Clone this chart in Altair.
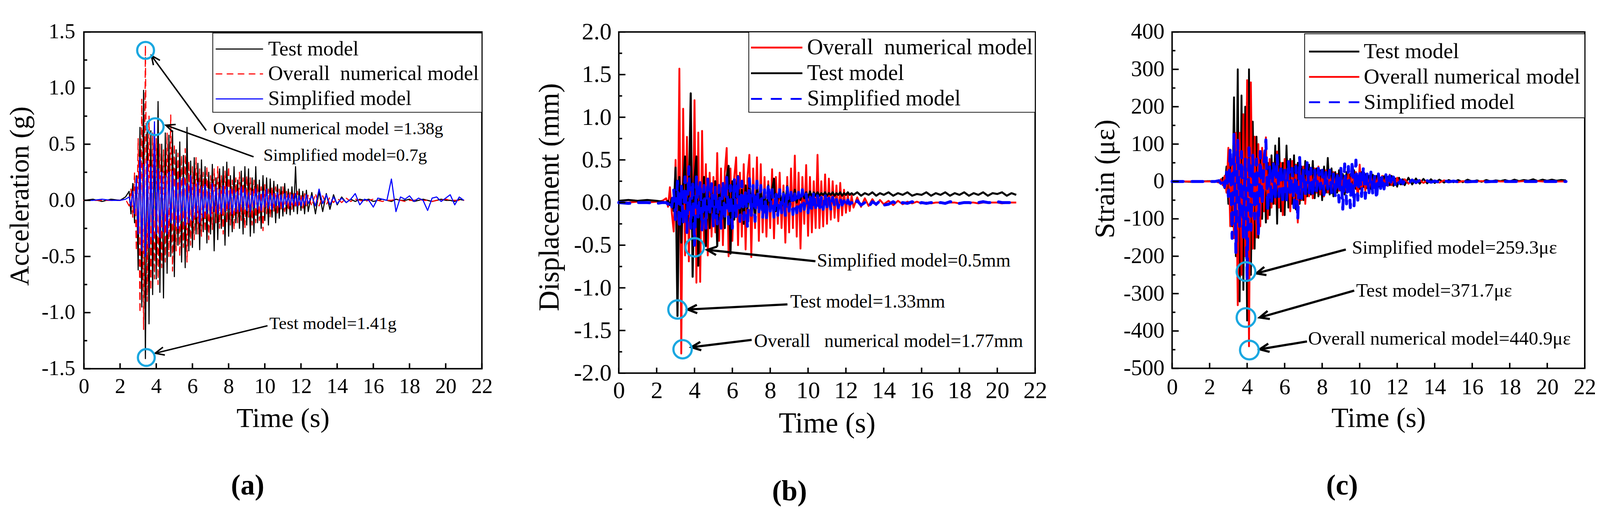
import math

import altair as alt
import pandas as pd

FONT = "Liberation Serif"
CYAN = "#1aa7e0"

# sampling grid shared by every record (s)
T_PRE = [0.0, 0.5, 1.0, 1.5, 2.0, 2.3]
T_MID = [round(2.5 + 0.1 * i, 1) for i in range(100)]
T_LATE = [12.6, 12.8, 13.0, 13.2, 13.4, 13.6, 13.8, 14.0]
T_TAIL = [round(14.25 + 0.25 * i, 2) for i in range(28)]
TIME = T_PRE + T_MID + T_LATE + T_TAIL

X_TICKS = [0, 2, 4, 6, 8, 10, 12, 14, 16, 18, 20, 22]

TEST = "Test model"
OVERALL2 = "Overall\u00a0\u00a0numerical model"
OVERALL = "Overall numerical model"
SIMPLE = "Simplified model"

# ---------------- (a) acceleration, g ----------------
ACC_TEST = (
    [0.0, 0.01, -0.01, 0.01, 0.0, 0.03]
    + [0.08, -0.12, 0.15, -0.2, 0.22, -0.62, 0.65, -0.95, 0.98, -1.41,
       0.7, -1.1, 0.62, -0.84, 0.55, -0.7, 0.88, -0.82, 0.5, -0.87,
       0.6, -0.65, 0.58, -0.5, 0.62, -0.68, 0.45, -0.4, 0.52, -0.55,
       0.4, -0.6, 0.65, -0.45, 0.35, -0.42, 0.38, -0.3, 0.33, -0.44,
       0.36, -0.28, 0.3, -0.38, 0.25, -0.3, 0.32, -0.45, 0.2, -0.35,
       0.28, -0.25, 0.3, -0.4, 0.34, -0.32, 0.22, -0.28, 0.3, -0.2,
       0.18, -0.25, 0.26, -0.3, 0.3, -0.22, 0.28, -0.32, 0.2, -0.29,
       0.3, -0.2, 0.18, -0.25, 0.22, -0.18, 0.2, -0.22, 0.19, -0.15,
       0.17, -0.2, 0.14, -0.16, 0.12, -0.14, 0.15, -0.12, 0.1, -0.13,
       0.12, -0.1, 0.3, -0.12, 0.1, -0.09, 0.08, -0.12, 0.09, -0.1]
    + [0.07, -0.12, 0.08, -0.1, 0.06, -0.08, 0.05, -0.04]
    + [0.03, -0.02, 0.01, -0.01, 0.01, 0.0, 0.01, -0.01, 0.0, 0.01, 0.0, -0.01, 0.01, 0.0,
       0.0, 0.01, -0.01, 0.0, 0.01, 0.0, -0.01, 0.0, 0.01, 0.0, 0.0, -0.01, 0.01, 0.0]
)
ACC_OVERALL = (
    [0.0, 0.0, 0.0, 0.0, 0.0, 0.01]
    + [-0.05, 0.1, -0.15, 0.25, -0.45, 0.55, -1.0, 0.9, -1.15, 1.38,
       -0.9, 0.75, -0.8, 0.6, -0.7, 0.55, -0.75, 0.5, -0.6, 0.45,
       -0.55, 0.6, -0.5, 0.76, -0.63, 0.5, -0.45, 0.42, -0.5, 0.4,
       -0.42, 0.46, -0.55, 0.35, -0.4, 0.3, -0.35, 0.38, -0.3, 0.28,
       -0.32, 0.25, -0.28, 0.3, -0.35, 0.22, -0.26, 0.28, -0.2, 0.3,
       -0.25, 0.22, -0.3, 0.26, -0.2, 0.3, -0.22, 0.18, -0.26, 0.2,
       -0.2, 0.25, -0.18, 0.2, -0.25, 0.22, -0.15, 0.2, -0.22, 0.18,
       -0.2, 0.15, -0.18, 0.12, -0.27, 0.14, -0.12, 0.1, -0.15, 0.12,
       -0.1, 0.12, -0.13, 0.1, -0.08, 0.12, -0.1, 0.08, -0.09, 0.07,
       -0.08, 0.06, -0.07, 0.08, -0.06, 0.05, -0.07, 0.06, -0.05, 0.05]
    + [-0.05, 0.06, -0.05, 0.04, -0.04, 0.03, -0.02, 0.02]
    + [-0.02, 0.02, -0.01, 0.01, 0.0, -0.01, 0.0, 0.01, 0.0, -0.01, 0.0, 0.0, 0.01, 0.0,
       -0.01, 0.0, 0.0, 0.01, 0.0, 0.0, -0.01, 0.0, 0.0, 0.01, 0.0, 0.0, 0.0, 0.0]
)
ACC_SIMPLE = (
    [0.0, 0.0, 0.01, 0.0, 0.0, 0.01]
    + [0.03, -0.05, 0.08, -0.12, 0.2, -0.3, 0.38, -0.45, 0.32, -0.5,
       0.35, -0.42, 0.3, -0.35, 0.7, -0.3, 0.28, -0.33, 0.25, -0.28,
       0.22, -0.3, 0.25, -0.2, 0.26, -0.22, 0.18, -0.25, 0.2, -0.18,
       0.2, -0.22, 0.15, -0.2, 0.22, -0.18, 0.14, -0.15, 0.16, -0.2,
       0.12, -0.15, 0.14, -0.12, 0.1, -0.14, 0.15, -0.1, 0.12, -0.12,
       0.1, -0.12, 0.13, -0.1, 0.12, -0.08, 0.1, -0.12, 0.09, -0.1,
       0.08, -0.1, 0.12, -0.08, 0.1, -0.09, 0.07, -0.1, 0.08, -0.07,
       0.1, -0.08, 0.07, -0.09, 0.08, -0.06, 0.1, -0.07, 0.06, -0.08,
       0.06, -0.05, 0.07, -0.06, 0.05, -0.07, 0.06, -0.04, 0.05, -0.05,
       0.05, -0.04, 0.06, -0.05, 0.04, -0.05, 0.03, -0.04, 0.05, -0.03]
    + [0.04, -0.05, 0.1, -0.03, 0.05, -0.04, 0.03, -0.03]
    + [0.02, -0.02, 0.01, 0.06, -0.04, 0.01, 0.0, -0.06, 0.02, 0.01, 0.0, 0.19, -0.1, 0.03,
       0.01, 0.04, -0.01, 0.02, 0.0, -0.09, 0.02, 0.03, -0.01, 0.02, 0.05, -0.04, 0.03, 0.0]
)

# ---------------- (b) displacement, mm ----------------
DIS_OVERALL = (
    [0.0, 0.0, 0.01, 0.0, 0.01, 0.02]
    + [0.05, -0.05, 0.18, -0.12, -0.34, 0.5, -0.71, 1.57, -1.77, 1.1,
       -0.62, 0.77, -0.69, 0.5, -0.6, 1.2, -0.94, 0.82, -0.93, 0.84,
       -0.5, 0.45, -0.62, 0.35, -0.4, 0.3, -0.35, 0.58, -0.45, 0.4,
       -0.5, 0.35, 0.64, -0.63, 0.4, -0.45, 0.3, 0.53, -0.5, 0.35,
       -0.4, 0.45, -0.55, 0.3, 0.56, -0.64, 0.4, -0.3, 0.53, -0.45,
       0.45, -0.35, 0.3, -0.4, 0.25, -0.3, 0.39, -0.42, 0.3, -0.25,
       0.35, -0.3, 0.2, -0.47, 0.3, -0.35, 0.4, -0.3, 0.55, -0.4,
       0.35, -0.54, 0.3, -0.25, 0.44, -0.39, 0.3, -0.35, 0.25, -0.3,
       0.56, -0.3, 0.25, -0.28, 0.33, -0.25, 0.28, -0.2, 0.25, -0.18,
       0.2, -0.22, 0.23, -0.15, 0.15, -0.12, 0.1, -0.1, 0.08, -0.06]
    + [0.06, -0.05, 0.05, -0.04, 0.04, -0.03, 0.03, -0.02]
    + [0.02, -0.03, 0.02, -0.02, 0.01, -0.01, 0.01, -0.01, 0.0, -0.01, 0.0, 0.0, -0.01, 0.0,
       0.0, -0.01, 0.0, 0.0, 0.0, -0.01, 0.0, 0.0, 0.0, 0.0, -0.01, 0.0, 0.0, 0.0]
)
DIS_TEST = (
    [0.02, 0.03, 0.02, 0.03, 0.02, 0.01]
    + [0.0, 0.02, -0.03, 0.05, -0.1, 0.41, -1.33, 0.3, -0.47, 0.2,
       0.54, -0.3, 0.1, 1.28, -0.87, 0.3, 0.54, -0.74, 0.2, -0.3,
       0.3, -0.51, 0.2, -0.3, 0.15, -0.2, 0.25, -0.51, 0.2, -0.2,
       0.1, -0.3, 0.3, 0.43, -0.6, 0.25, -0.2, 0.1, 0.31, -0.2,
       0.15, -0.25, 0.2, -0.1, 0.25, -0.15, 0.1, -0.2, 0.2, -0.05,
       0.15, -0.1, 0.1, -0.15, 0.2, -0.1, 0.15, 0.28, -0.1, 0.05,
       0.15, -0.05, 0.12, 0.0, 0.19, -0.05, 0.1, 0.02, 0.15, 0.0,
       0.12, 0.03, 0.14, 0.05, 0.12, 0.06, 0.13, 0.07, 0.12, 0.08,
       0.12, 0.08, 0.11, 0.09, 0.12, 0.08, 0.11, 0.09, 0.12, 0.08,
       0.11, 0.09, 0.12, 0.08, 0.11, 0.09, 0.12, 0.09, 0.11, 0.09]
    + [0.12, 0.08, 0.11, 0.09, 0.12, 0.08, 0.11, 0.09]
    + [0.12, 0.08, 0.11, 0.09, 0.12, 0.08, 0.1, 0.09, 0.12, 0.08, 0.11, 0.09, 0.12, 0.08,
       0.11, 0.09, 0.12, 0.08, 0.11, 0.09, 0.12, 0.08, 0.11, 0.1, 0.12, 0.08, 0.11, 0.09]
)
DIS_SIMPLE = (
    [0.0, -0.01, 0.0, 0.0, -0.01, 0.0]
    + [0.0, -0.02, 0.03, -0.05, 0.15, -0.2, 0.25, -0.3, 0.2, -0.25,
       0.3, -0.35, 0.42, -0.3, 0.25, -0.5, 0.3, -0.2, 0.25, -0.32,
       0.2, -0.3, 0.28, -0.15, 0.22, -0.28, 0.18, -0.25, 0.2, -0.3,
       0.25, -0.2, 0.3, -0.25, 0.2, -0.3, 0.28, -0.18, 0.3, -0.22,
       0.25, -0.2, 0.15, -0.3, 0.28, -0.15, 0.2, -0.22, 0.25, -0.12,
       0.2, -0.18, 0.15, -0.2, 0.22, -0.1, 0.15, -0.18, 0.12, -0.15,
       0.15, -0.12, 0.1, -0.15, 0.18, -0.1, 0.12, -0.14, 0.1, -0.12,
       0.12, -0.1, 0.15, -0.08, 0.1, -0.12, 0.08, -0.1, 0.12, -0.06,
       0.08, -0.1, 0.06, -0.08, 0.1, -0.05, 0.05, -0.08, 0.06, -0.04,
       0.04, -0.06, 0.05, -0.03, 0.02, -0.05, 0.03, -0.02, 0.0, -0.04]
    + [0.02, -0.03, 0.0, -0.05, 0.01, -0.02, 0.02, -0.03]
    + [-0.02, 0.01, -0.03, 0.0, -0.01, 0.01, -0.02, 0.0, -0.01, 0.0, -0.01, 0.0, -0.01, 0.01,
       0.0, -0.01, 0.0, 0.0, -0.01, 0.0, 0.01, 0.0, 0.0, 0.01, 0.0, 0.0, 0.0, 0.0]
)

# ---------------- (c) strain, micro-strain ----------------
STR_TEST = (
    [0, 0, -1, 0, 1, 0]
    + [3, -5, 10, -18, 40, -60, 85, -120, 225, -200,
       300, -321, 230, -290, 200, -372, 300, -250, 160, -180,
       120, -151, 80, -100, 60, -110, 50, -90, 70, -60,
       96, -113, 116, -80, 50, -90, 96, -70, 60, -60,
       70, -75, 50, -60, 40, -50, 55, -40, 45, -35,
       55, -45, 35, -40, 30, -50, 40, -30, 63, -35,
       35, -40, 25, -30, 30, -25, 20, -35, 25, -20,
       20, -25, 30, -20, 15, -20, 25, -15, 20, -18,
       15, -20, 18, -12, 15, -15, 10, -12, 14, -10,
       12, -10, 15, -12, 8, -14, 10, -8, 6, -10]
    + [10, -8, 8, -6, 7, -5, 6, -4]
    + [5, -3, 4, -2, 4, -2, 5, 0, 3, -1, 4, 0, 3, 1,
       4, 0, 5, 1, 4, 2, 6, 1, 5, 2, 5, 2, 4, 3]
)
STR_OVERALL = (
    [0, 0, 0, 0, 0, 0]
    + [-3, 6, -10, 15, -30, 90, -120, 60, -152, 130,
       -331, 130, -250, 180, -200, 271, -441, 265, -180, 120,
       -150, 100, -120, 90, -80, 118, -100, 60, -70, 50,
       -60, 80, -70, 50, -90, 60, -50, 40, -80, 55,
       -60, 45, -110, 59, -50, 40, -60, 35, -40, 30,
       -45, 35, -30, 40, -35, 25, -40, 30, -30, 20,
       -30, 25, -35, 20, -25, 30, -20, 15, -30, 20,
       -25, 40, -20, 25, -50, 45, -30, 20, -25, 15,
       -20, 18, -25, 15, -15, 20, -12, 15, -10, 12,
       -12, 18, -10, 8, -8, 10, -6, 5, -8, 6]
    + [-6, 5, -5, 4, -4, 3, -3, 3]
    + [-3, 3, -2, 2, -2, 1, -1, 1, 0, 1, 0, 0, 1, 0,
       0, 1, 0, 0, 1, 0, 0, 1, 0, 0, 1, 0, 0, 0]
)
STR_SIMPLE = (
    [0, 0, 0, 0, 0, 0]
    + [2, -5, 8, -15, 25, -40, 90, -152, 126, -190,
       110, -120, 80, -150, 60, -259, 90, -130, 70, -100,
       60, -140, 80, -60, 50, 111, -80, 40, -60, 50,
       -50, 70, -40, 45, -60, 30, -50, 55, -40, 35,
       -70, 40, -102, 64, -45, 30, -40, 50, -30, 35,
       -40, 30, -25, 35, -20, 30, -35, 25, -20, 30,
       -30, 20, -40, 25, -55, 35, -74, 47, -60, 40,
       -70, 55, -65, 57, -50, 30, -40, 40, -45, 20,
       -30, 25, -35, 15, -47, 20, -25, 15, -20, 18,
       -15, 15, -10, 12, -8, 6, -5, 4, -6, 3]
    + [-5, 4, -3, 3, -2, 2, -2, 1]
    + [-2, 2, -1, 1, -1, 0, -1, 0, 0, 0, -1, 0, 0, 0,
       0, 0, 0, 0, 0, 0, 0, 0, 0, 0, 0, 0, 0, 0]
)

for s in [ACC_TEST, ACC_OVERALL, ACC_SIMPLE, DIS_OVERALL, DIS_TEST, DIS_SIMPLE,
          STR_TEST, STR_OVERALL, STR_SIMPLE]:
    assert len(s) == len(TIME), len(s)

# annotations: label position, arrow tail -> head, circled peaks
ANN_A_TEXT = ["Overall numerical model =1.38g", "Simplified model=0.7g", "Test model=1.41g"]
ANN_A_TX = [7.14, 9.92, 10.25]
ANN_A_TY = [0.633, 0.398, -1.10]
ARR_A = [(6.76, 0.623, 3.73, 1.29), (9.38, 0.388, 4.53, 0.669), (10.15, -1.117, 3.94, -1.362)]
CIRC_A_T = [3.41, 3.94, 3.45]
CIRC_A_V = [1.336, 0.656, -1.40]

ANN_B_TEXT = ["Simplified model=0.5mm", "Test model=1.33mm",
              "Overall\u00a0\u00a0\u00a0numerical model=1.77mm"]
ANN_B_TX = [10.47, 9.06, 7.15]
ANN_B_TY = [-0.688, -1.168, -1.631]
ARR_B = [(10.39, -0.688, 4.67, -0.555), (8.91, -1.194, 3.64, -1.254), (7.02, -1.61, 3.84, -1.696)]
CIRC_B_T = [4.01, 3.10, 3.37]
CIRC_B_V = [-0.525, -1.254, -1.72]

ANN_C_TEXT = ["Simplified model=259.3\u03bc\u03b5", "Test model=371.7\u03bc\u03b5",
              "Overall numerical model=440.9\u03bc\u03b5"]
ANN_C_TX = [9.59, 9.81, 7.25]
ANN_C_TY = [-178, -292, -421]
ARR_C = [(9.26, -182, 4.49, -246), (9.71, -292, 4.67, -364), (7.19, -428, 4.67, -449)]
CIRC_C_T = [3.94, 3.94, 4.12]
CIRC_C_V = [-241, -364, -451]

CHEVRON = "M -0.45 1 L 0 0 L 0.45 1"
LEG_BOX = 68  # legend symbol cell, px (kept larger than the label font)


def make_panel(p):
    w, h = p["w"], p["h"]
    y0, y1 = p["ydom"]
    xs = alt.Scale(domain=[0, 22], nice=False, zero=False)
    ys = alt.Scale(domain=[y0, y1], nice=False, zero=False)

    # legend line sample: a path that starts at the cell's left edge and is L px long
    L, sw = p["leg_sym"], p["leg_sw"]
    cell = LEG_BOX + sw
    u = LEG_BOX / 2.0
    sym = "M %.3f 0 L %.3f 0" % (-(cell / 2.0) / u, (L - cell / 2.0) / u)
    legend = alt.Legend(
        title=None, orient="none", legendX=p["leg_x"], legendY=p["leg_y"],
        strokeColor="black", fillColor="white", padding=p["leg_pad"],
        labelFont=FONT, labelFontSize=p["leg_fs"], labelColor="black",
        labelLimit=3000, labelOffset=L + p["leg_off"] - cell, rowPadding=p["leg_gap"] - cell,
        symbolType=sym, symbolSize=LEG_BOX ** 2,
        symbolStrokeWidth=sw, symbolOpacity=1,
    )
    color = alt.Color("series:N", scale=alt.Scale(domain=p["names"], range=p["colors"]),
                      legend=legend)
    dash = alt.StrokeDash("series:N", scale=alt.Scale(domain=p["names"], range=p["dashes"]),
                          legend=legend)
    lab = "(datum.value < 0 ? '-' : '') + format(abs(datum.value), '%s')" % p["yfmt"]
    x_axis = alt.Axis(values=X_TICKS, title="Time (s)", titleFontSize=p["title_fs"],
                      titleX=w / 2, titleY=p["xt_y"], titleBaseline="alphabetic",
                      titleAlign="center", labelFontSize=p["tick_fs"],
                      labelPadding=p["lab_px"], labelFlush=False, labelOverlap=False)
    y_axis = alt.Axis(values=p["ymajor"], title=p["ytitle"], titleFontSize=p["title_fs"],
                      titleX=p["yt_x"], titleY=p["yt_y"], titleBaseline="middle",
                      titleAlign="center", titleAngle=270, labelExpr=lab,
                      labelFontSize=p["tick_fs"], labelPadding=p["lab_py"],
                      labelFlush=False, labelOverlap=False)

    def X(field):
        return alt.X(field, scale=xs, axis=x_axis)

    def Y(field):
        return alt.Y(field, scale=ys, axis=y_axis)

    layers = []
    for name in p["draw"]:
        i = p["names"].index(name)
        df = pd.DataFrame({"t": TIME, "v": p["series"][name], "series": name})
        layers.append(
            alt.Chart(df).mark_line(strokeWidth=p["widths"][i], strokeJoin="round",
                                    strokeCap="round" if p["dashes"][i] != [1, 0] else "butt")
            .encode(x=X("t:Q"), y=Y("v:Q"), color=color, strokeDash=dash)
        )

    # inward ticks
    layers.append(
        alt.Chart(pd.DataFrame({"t": X_TICKS})).mark_rule(color="black", strokeWidth=4)
        .encode(x=X("t:Q"), y=alt.value(h), y2=alt.value(h - 15))
    )
    layers.append(
        alt.Chart(pd.DataFrame({"v": p["ymajor"]})).mark_rule(color="black", strokeWidth=4)
        .encode(y=Y("v:Q"), x=alt.value(0), x2=alt.value(18))
    )
    layers.append(
        alt.Chart(pd.DataFrame({"v": p["yminor"]})).mark_rule(color="black", strokeWidth=4)
        .encode(y=Y("v:Q"), x=alt.value(0), x2=alt.value(9))
    )

    # arrows
    kx = w / 22.0
    ky = h / (y1 - y0)
    rows = []
    for (ta, va, tb, vb) in p["arrows"]:
        dx = (tb - ta) * kx
        dy = -(vb - va) * ky
        ang = math.degrees(math.atan2(dx, -dy)) % 360
        rows.append({"t": ta, "v": va, "t2": tb, "v2": vb, "ang": ang})
    arr = pd.DataFrame(rows)
    layers.append(
        alt.Chart(arr).mark_rule(color="black", strokeWidth=p["arrow_w"])
        .encode(x=X("t:Q"), y=Y("v:Q"), x2="t2:Q", y2="v2:Q")
    )
    heads = arr[["t2", "v2", "ang"]].rename(columns={"t2": "t", "v2": "v"})
    layers.append(
        alt.Chart(heads).mark_point(shape=CHEVRON, filled=False, color="black", opacity=1,
                                    strokeWidth=p["arrow_w"], size=p["head"], strokeJoin="miter")
        .encode(x=X("t:Q"), y=Y("v:Q"), angle=alt.Angle("ang:Q", scale=None))
    )
    # circled peaks
    layers.append(
        alt.Chart(pd.DataFrame({"t": p["circ_t"], "v": p["circ_v"]}))
        .mark_point(shape="circle", filled=False, color=CYAN, opacity=1, strokeWidth=6,
                    size=p["circ"])
        .encode(x=X("t:Q"), y=Y("v:Q"))
    )
    # labels
    layers.append(
        alt.Chart(pd.DataFrame({"t": p["ann_tx"], "v": p["ann_ty"], "label": p["ann_text"]}))
        .mark_text(align="left", baseline="middle", font=FONT, fontSize=p["ann_fs"],
                   color="black")
        .encode(x=X("t:Q"), y=Y("v:Q"), text="label:N")
    )

    return alt.layer(*layers).properties(
        width=w, height=h,
        title=alt.TitleParams(p["letter"], orient="bottom", anchor="middle", dx=p["letter_dx"],
                              offset=p["letter_off"], fontSize=78, font=FONT,
                              fontWeight="bold", color="black"),
    )


PANEL_A = dict(
    w=1084, h=918, ydom=[-1.5, 1.5],
    ymajor=[-1.5, -1.0, -0.5, 0.0, 0.5, 1.0, 1.5],
    yminor=[-1.25, -0.75, -0.25, 0.25, 0.75, 1.25], yfmt=".1f",
    ytitle="Acceleration (g)", yt_x=-174, yt_y=447, xt_y=158,
    tick_fs=58, title_fs=75, lab_px=20, lab_py=24,
    names=[TEST, OVERALL2, SIMPLE], colors=["black", "red", "blue"],
    dashes=[[1, 0], [18, 12], [1, 0]], widths=[3, 3, 3],
    draw=[TEST, OVERALL2, SIMPLE],
    series={TEST: ACC_TEST, OVERALL2: ACC_OVERALL, SIMPLE: ACC_SIMPLE},
    leg_x=351, leg_y=3, leg_pad=8, leg_fs=56, leg_off=14, leg_gap=75, leg_sym=129, leg_sw=3,
    arrows=ARR_A, arrow_w=4, head=2400, circ_t=CIRC_A_T, circ_v=CIRC_A_V, circ=2100,
    ann_text=ANN_A_TEXT, ann_tx=ANN_A_TX, ann_ty=ANN_A_TY, ann_fs=48,
    letter="(a)", letter_dx=-96, letter_off=108,
)
PANEL_B = dict(
    w=1134, h=930, ydom=[-2.0, 2.0],
    ymajor=[-2.0, -1.5, -1.0, -0.5, 0.0, 0.5, 1.0, 1.5, 2.0],
    yminor=[-1.75, -1.25, -0.75, -0.25, 0.25, 0.75, 1.25, 1.75], yfmt=".1f",
    ytitle="Displacement (mm)", yt_x=-188, yt_y=450, xt_y=161,
    tick_fs=65, title_fs=78, lab_px=17, lab_py=20,
    names=[OVERALL2, TEST, SIMPLE], colors=["red", "black", "blue"],
    dashes=[[1, 0], [1, 0], [30, 24]], widths=[5, 5.5, 8],
    draw=[OVERALL2, TEST, SIMPLE],
    series={TEST: DIS_TEST, OVERALL2: DIS_OVERALL, SIMPLE: DIS_SIMPLE},
    leg_x=354, leg_y=0, leg_pad=6, leg_fs=60, leg_off=13, leg_gap=76, leg_sym=140, leg_sw=5,
    arrows=ARR_B, arrow_w=6, head=2600, circ_t=CIRC_B_T, circ_v=CIRC_B_V, circ=2500,
    ann_text=ANN_B_TEXT, ann_tx=ANN_B_TX, ann_ty=ANN_B_TY, ann_fs=51,
    letter="(b)", letter_dx=-102, letter_off=108,
)
PANEL_C = dict(
    w=1124, h=917, ydom=[-500, 400],
    ymajor=[-500, -400, -300, -200, -100, 0, 100, 200, 300, 400],
    yminor=[-450, -350, -250, -150, -50, 50, 150, 250, 350], yfmt="d",
    ytitle="Strain (\u03bc\u03b5)", yt_x=-182, yt_y=400, xt_y=159,
    tick_fs=61, title_fs=76, lab_px=22, lab_py=21,
    names=[TEST, OVERALL, SIMPLE], colors=["black", "red", "blue"],
    dashes=[[1, 0], [1, 0], [30, 24]], widths=[5, 5, 8],
    draw=[TEST, OVERALL, SIMPLE],
    series={TEST: STR_TEST, OVERALL: STR_OVERALL, SIMPLE: STR_SIMPLE},
    leg_x=361, leg_y=5, leg_pad=12, leg_fs=59, leg_off=12, leg_gap=75, leg_sym=137, leg_sw=5,
    arrows=ARR_C, arrow_w=6, head=2600, circ_t=CIRC_C_T, circ_v=CIRC_C_V, circ=2600,
    ann_text=ANN_C_TEXT, ann_tx=ANN_C_TX, ann_ty=ANN_C_TY, ann_fs=52,
    letter="(c)", letter_dx=-99, letter_off=108,
)

chart = (
    alt.hconcat(make_panel(PANEL_A), make_panel(PANEL_B), make_panel(PANEL_C),
                spacing=373, bounds="flush")
    .resolve_scale(color="independent", strokeDash="independent")
    .resolve_legend(color="independent", strokeDash="independent")
    .properties(padding={"left": 7, "top": 2, "right": 0, "bottom": 0}, background="white")
    .configure_view(stroke="black", strokeWidth=4)
    .configure_axis(grid=False, domain=False, ticks=False, tickSize=0,
                    labelFont=FONT, titleFont=FONT, labelColor="black",
                    titleColor="black", titleFontWeight="normal")
    .configure_legend(strokeWidth=2, cornerRadius=0)
)

chart.save("out.html", embed_options={"renderer": "svg", "actions": False})
